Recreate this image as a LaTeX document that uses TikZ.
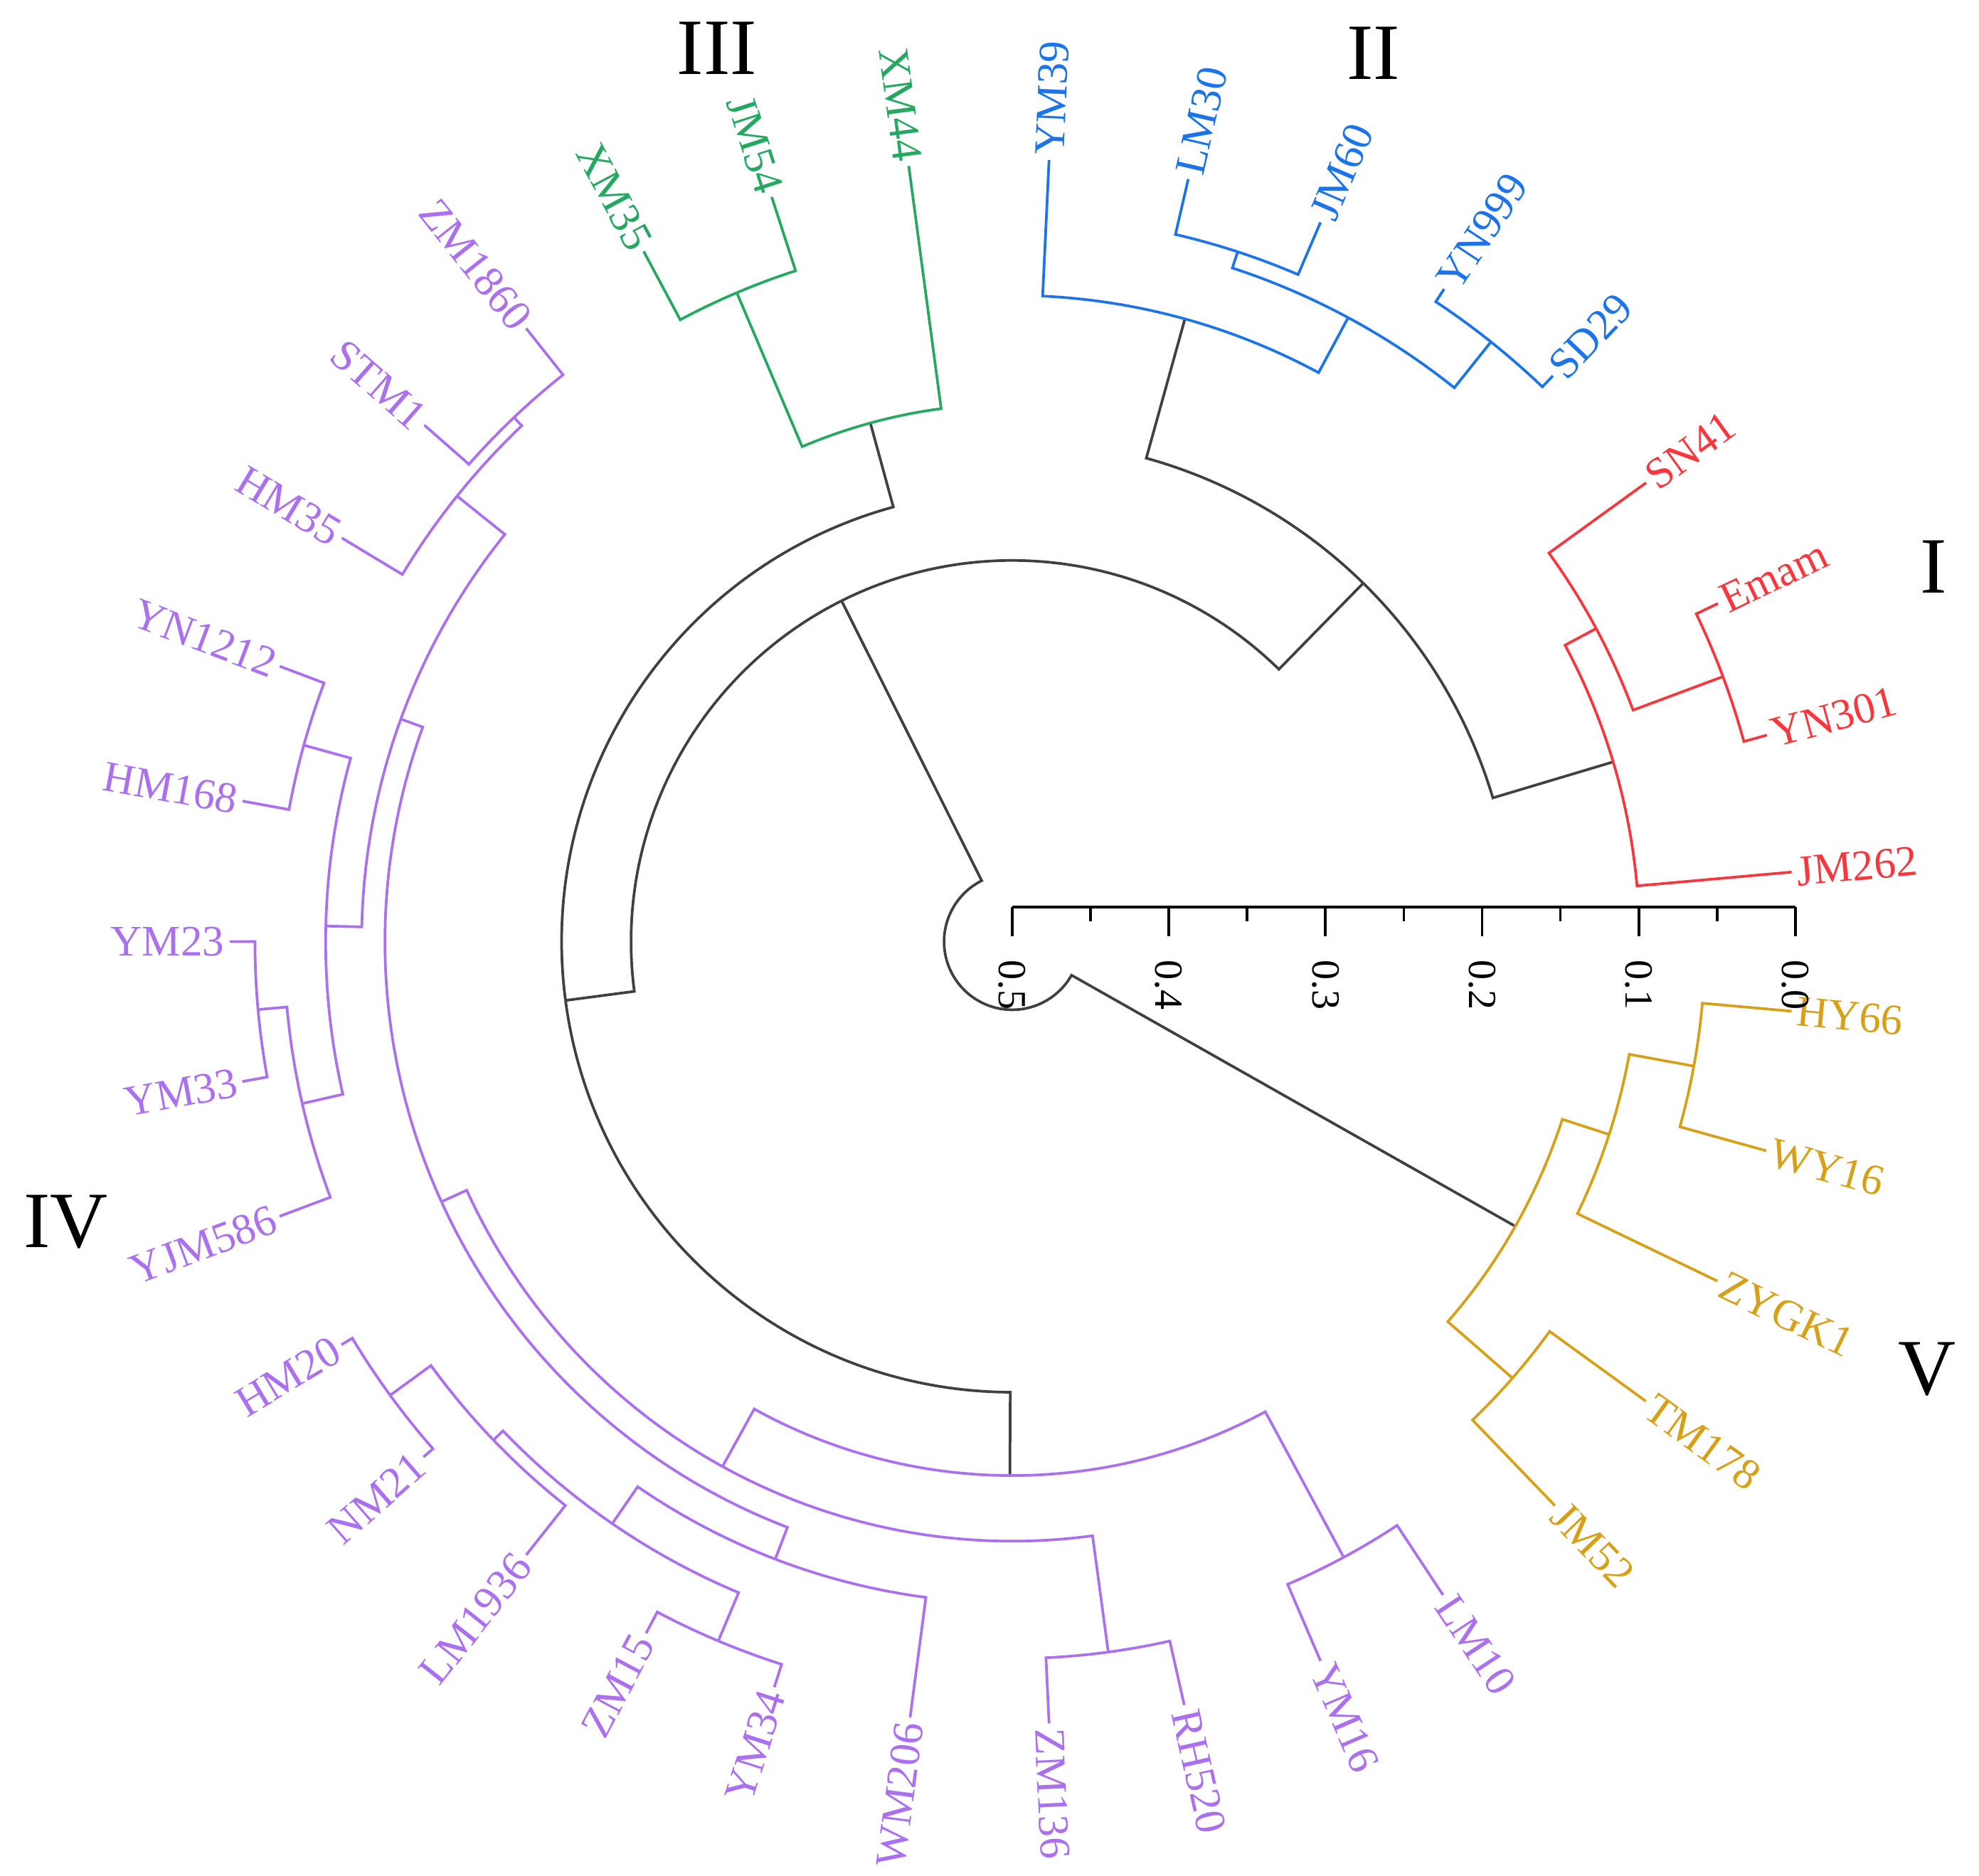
\documentclass[tikz,border=0pt]{standalone}
\usepackage{fontspec}
\setmainfont{Liberation Serif}

\definecolor{SpineColor}{RGB}{64,64,64}
\definecolor{CladeIColor}{RGB}{246,56,62}
\definecolor{CladeIIColor}{RGB}{28,116,232}
\definecolor{CladeIIIColor}{RGB}{38,168,98}
\definecolor{CladeIVColor}{RGB}{170,112,238}
\definecolor{CladeVColor}{RGB}{214,160,24}

\tikzstyle{branch-base}=[line width=0.6pt]
\tikzstyle{spine}=[branch-base, draw={SpineColor}]
\tikzstyle{clade1}=[branch-base, draw={CladeIColor}]
\tikzstyle{clade2}=[branch-base, draw={CladeIIColor}]
\tikzstyle{clade3}=[branch-base, draw={CladeIIIColor}]
\tikzstyle{clade4}=[branch-base, draw={CladeIVColor}]
\tikzstyle{clade5}=[branch-base, draw={CladeVColor}]
\tikzstyle{leaf-base}=[inner sep=1pt, font=\fontsize{9.8}{11}\selectfont]
\tikzstyle{leaf-out}=[leaf-base, anchor=west]
\tikzstyle{leaf-in}=[leaf-base, anchor=east]
\tikzstyle{clade-tag}=[font=\fontsize{18}{20}\selectfont]
\tikzstyle{axis}=[line width=0.6pt, draw=black]
\tikzstyle{axis-label}=[font=\fontsize{9}{10}\selectfont, rotate=-90, anchor=west, inner sep=0pt]

\begin{document}
\begin{tikzpicture}
\useasboundingbox (-8.02,-7.40) rectangle (7.66,7.46);

% inner nodes
\coordinate (root) at (223.5:0.54);
\coordinate (core_a) at (116.6:3.02);
\coordinate (core_b) at (45.6:3.975);
\coordinate (core_c) at (187.5:3.57);
\coordinate (c1_root) at (16.65:4.97);
\coordinate (c2_root) at (74.5:5.12);
\coordinate (c3_root) at (105.3:4.26);
\coordinate (c4_root) at (269.75:4.23);
\coordinate (c5_root) at (330.5:4.58);

\coordinate (c1_n1) at (28.2:5.25);
\coordinate (c1_n2) at (20.45:6.01);
\coordinate (c2_n1) at (61.7:5.615);
\coordinate (c2_n2) at (71.9:5.75);
\coordinate (c2_n3) at (51.4:6.08);
\coordinate (c3_n1) at (113.0:5.585);
\coordinate (c4_a) at (241.1:4.75);
\coordinate (c4_w) at (204.5:4.97);
\coordinate (c4_r) at (160.0:5.155);
\coordinate (c4_p) at (141.25:5.64);
\coordinate (c4_q) at (133.55:5.73);
\coordinate (c4_t) at (178.7:5.44);
\coordinate (c4_s) at (164.5:5.825);
\coordinate (c4_u) at (192.85:5.77);
\coordinate (c4_x) at (185.15:6.00);
\coordinate (c4_y) at (249.0:5.24);
\coordinate (c4_z) at (235.5:5.595);
\coordinate (c4_l) at (223.85:5.70);
\coordinate (c4_h) at (216.1:6.10);
\coordinate (c4_m) at (247.2:6.01);
\coordinate (c4_zr) at (277.7:5.68);
\coordinate (c4_b) at (298.3:5.54);
\coordinate (c5_n1) at (342.1:4.97);
\coordinate (c5_n2) at (349.65:5.49);
\coordinate (c5_n3) at (318.9:5.26);

% leaves
\node[leaf-out, text=CladeIColor, rotate=35.9] (SN41) at (35.9:6.20) {SN41};
\node[leaf-out, text=CladeIColor, rotate=25.6] (Emam) at (25.6:6.20) {Emam};
\node[leaf-out, text=CladeIColor, rotate=15.3] (YN301) at (15.3:6.20) {YN301};
\node[leaf-out, text=CladeIColor, rotate=5.1] (JM262) at (5.1:6.20) {JM262};

\node[leaf-out, text=CladeIIColor, rotate=87.3] (YM39) at (87.3:6.20) {YM39};
\node[leaf-out, text=CladeIIColor, rotate=77.0] (LM30) at (77.0:6.20) {LM30};
\node[leaf-out, text=CladeIIColor, rotate=66.8] (JM60) at (66.8:6.20) {JM60};
\node[leaf-out, text=CladeIIColor, rotate=56.5] (YN999) at (56.5:6.20) {YN999};
\node[leaf-out, text=CladeIIColor, rotate=46.3] (SD29) at (46.3:6.20) {SD29};

\node[leaf-in, text=CladeIIIColor, rotate=298.1] (XM35) at (118.1:6.20) {XM35};
\node[leaf-in, text=CladeIIIColor, rotate=287.9] (JM54) at (107.9:6.20) {JM54};
\node[leaf-in, text=CladeIIIColor, rotate=277.6] (XM44) at (97.6:6.20) {XM44};

\node[leaf-in, text=CladeIVColor, rotate=308.4] (ZM1860) at (128.4:6.20) {ZM1860};
\node[leaf-in, text=CladeIVColor, rotate=318.7] (STM1) at (138.7:6.20) {STM1};
\node[leaf-in, text=CladeIVColor, rotate=328.95] (HM35) at (148.95:6.20) {HM35};
\node[leaf-in, text=CladeIVColor, rotate=339.4] (YN1212) at (159.4:6.20) {YN1212};
\node[leaf-in, text=CladeIVColor, rotate=349.65] (HM168) at (169.65:6.20) {HM168};
\node[leaf-in, text=CladeIVColor, rotate=0.0] (YM23) at (180.0:6.20) {YM23};
\node[leaf-in, text=CladeIVColor, rotate=10.3] (YM33) at (190.3:6.20) {YM33};
\node[leaf-in, text=CladeIVColor, rotate=20.55] (YJM586) at (200.55:6.20) {YJM586};
\node[leaf-in, text=CladeIVColor, rotate=31.0] (HM20) at (211.0:6.20) {HM20};
\node[leaf-in, text=CladeIVColor, rotate=41.2] (NM21) at (221.2:6.20) {NM21};
\node[leaf-in, text=CladeIVColor, rotate=51.6] (LM1936) at (231.6:6.20) {LM1936};
\node[leaf-in, text=CladeIVColor, rotate=62.1] (ZM15) at (242.1:6.20) {ZM15};
\node[leaf-in, text=CladeIVColor, rotate=72.3] (YM34) at (252.3:6.20) {YM34};
\node[leaf-in, text=CladeIVColor, rotate=82.5] (WM206) at (262.5:6.20) {WM206};
\node[leaf-out, text=CladeIVColor, rotate=272.7] (ZM136) at (272.7:6.20) {ZM136};
\node[leaf-out, text=CladeIVColor, rotate=282.7] (RH520) at (282.7:6.20) {RH520};
\node[leaf-out, text=CladeIVColor, rotate=293.2] (YM16) at (293.2:6.20) {YM16};
\node[leaf-out, text=CladeIVColor, rotate=303.4] (LM10) at (303.4:6.20) {LM10};

\node[leaf-out, text=CladeVColor, rotate=354.9] (HY66) at (354.9:6.20) {HY66};
\node[leaf-out, text=CladeVColor, rotate=344.5] (WY16) at (344.5:6.20) {WY16};
\node[leaf-out, text=CladeVColor, rotate=334.3] (ZYGK1) at (334.3:6.20) {ZYGK1};
\node[leaf-out, text=CladeVColor, rotate=324.05] (TM178) at (324.05:6.20) {TM178};
\node[leaf-out, text=CladeVColor, rotate=313.9] (JM52) at (313.9:6.20) {JM52};

% backbone
\draw[spine] (root) arc[start angle=223.5, end angle=116.6, radius=0.54] -- (core_a);
\draw[spine] (root) arc[start angle=223.5, end angle=330.5, radius=0.54] -- (c5_root);
\draw[spine] (core_a) arc[start angle=116.6, end angle=45.6, radius=3.02] -- (core_b);
\draw[spine] (core_a) arc[start angle=116.6, end angle=187.5, radius=3.02] -- (core_c);
\draw[spine] (core_b) arc[start angle=45.6, end angle=16.65, radius=3.975] -- (c1_root);
\draw[spine] (core_b) arc[start angle=45.6, end angle=74.5, radius=3.975] -- (c2_root);
\draw[spine] (core_c) arc[start angle=187.5, end angle=105.3, radius=3.57] -- (c3_root);
\draw[spine] (core_c) arc[start angle=187.5, end angle=269.75, radius=3.57] -- (c4_root);

% clade I
\draw[clade1] (c1_root) arc[start angle=16.65, end angle=28.2, radius=4.97] -- (c1_n1);
\draw[clade1] (c1_root) arc[start angle=16.65, end angle=5.1, radius=4.97] -- (JM262);
\draw[clade1] (c1_n1) arc[start angle=28.2, end angle=35.9, radius=5.25] -- (SN41);
\draw[clade1] (c1_n1) arc[start angle=28.2, end angle=20.45, radius=5.25] -- (c1_n2);
\draw[clade1] (c1_n2) arc[start angle=20.45, end angle=25.6, radius=6.01] -- (Emam);
\draw[clade1] (c1_n2) arc[start angle=20.45, end angle=15.3, radius=6.01] -- (YN301);

% clade II
\draw[clade2] (c2_root) arc[start angle=74.5, end angle=87.3, radius=5.12] -- (YM39);
\draw[clade2] (c2_root) arc[start angle=74.5, end angle=61.7, radius=5.12] -- (c2_n1);
\draw[clade2] (c2_n1) arc[start angle=61.7, end angle=71.9, radius=5.615] -- (c2_n2);
\draw[clade2] (c2_n1) arc[start angle=61.7, end angle=51.4, radius=5.615] -- (c2_n3);
\draw[clade2] (c2_n2) arc[start angle=71.9, end angle=77.0, radius=5.75] -- (LM30);
\draw[clade2] (c2_n2) arc[start angle=71.9, end angle=66.8, radius=5.75] -- (JM60);
\draw[clade2] (c2_n3) arc[start angle=51.4, end angle=56.5, radius=6.08] -- (YN999);
\draw[clade2] (c2_n3) arc[start angle=51.4, end angle=46.3, radius=6.08] -- (SD29);

% clade III
\draw[clade3] (c3_root) arc[start angle=105.3, end angle=113.0, radius=4.26] -- (c3_n1);
\draw[clade3] (c3_root) arc[start angle=105.3, end angle=97.6, radius=4.26] -- (XM44);
\draw[clade3] (c3_n1) arc[start angle=113.0, end angle=118.1, radius=5.585] -- (XM35);
\draw[clade3] (c3_n1) arc[start angle=113.0, end angle=107.9, radius=5.585] -- (JM54);

% clade IV
\draw[clade4] (c4_root) arc[start angle=269.75, end angle=241.1, radius=4.23] -- (c4_a);
\draw[clade4] (c4_root) arc[start angle=269.75, end angle=298.3, radius=4.23] -- (c4_b);
\draw[clade4] (c4_a) arc[start angle=241.1, end angle=204.5, radius=4.75] -- (c4_w);
\draw[clade4] (c4_a) arc[start angle=241.1, end angle=277.7, radius=4.75] -- (c4_zr);
\draw[clade4] (c4_w) arc[start angle=204.5, end angle=160.0, radius=4.97] -- (c4_r);
\draw[clade4] (c4_w) arc[start angle=204.5, end angle=249.0, radius=4.97] -- (c4_y);
\draw[clade4] (c4_r) arc[start angle=160.0, end angle=141.25, radius=5.155] -- (c4_p);
\draw[clade4] (c4_r) arc[start angle=160.0, end angle=178.7, radius=5.155] -- (c4_t);
\draw[clade4] (c4_p) arc[start angle=141.25, end angle=133.55, radius=5.64] -- (c4_q);
\draw[clade4] (c4_p) arc[start angle=141.25, end angle=148.95, radius=5.64] -- (HM35);
\draw[clade4] (c4_q) arc[start angle=133.55, end angle=128.4, radius=5.73] -- (ZM1860);
\draw[clade4] (c4_q) arc[start angle=133.55, end angle=138.7, radius=5.73] -- (STM1);
\draw[clade4] (c4_t) arc[start angle=178.7, end angle=164.5, radius=5.44] -- (c4_s);
\draw[clade4] (c4_t) arc[start angle=178.7, end angle=192.85, radius=5.44] -- (c4_u);
\draw[clade4] (c4_s) arc[start angle=164.5, end angle=159.4, radius=5.825] -- (YN1212);
\draw[clade4] (c4_s) arc[start angle=164.5, end angle=169.65, radius=5.825] -- (HM168);
\draw[clade4] (c4_u) arc[start angle=192.85, end angle=185.15, radius=5.77] -- (c4_x);
\draw[clade4] (c4_u) arc[start angle=192.85, end angle=200.55, radius=5.77] -- (YJM586);
\draw[clade4] (c4_x) arc[start angle=185.15, end angle=180.0, radius=6.00] -- (YM23);
\draw[clade4] (c4_x) arc[start angle=185.15, end angle=190.3, radius=6.00] -- (YM33);
\draw[clade4] (c4_y) arc[start angle=249.0, end angle=235.5, radius=5.24] -- (c4_z);
\draw[clade4] (c4_y) arc[start angle=249.0, end angle=262.5, radius=5.24] -- (WM206);
\draw[clade4] (c4_z) arc[start angle=235.5, end angle=223.85, radius=5.595] -- (c4_l);
\draw[clade4] (c4_z) arc[start angle=235.5, end angle=247.2, radius=5.595] -- (c4_m);
\draw[clade4] (c4_l) arc[start angle=223.85, end angle=216.1, radius=5.70] -- (c4_h);
\draw[clade4] (c4_l) arc[start angle=223.85, end angle=231.6, radius=5.70] -- (LM1936);
\draw[clade4] (c4_h) arc[start angle=216.1, end angle=211.0, radius=6.10] -- (HM20);
\draw[clade4] (c4_h) arc[start angle=216.1, end angle=221.2, radius=6.10] -- (NM21);
\draw[clade4] (c4_m) arc[start angle=247.2, end angle=242.1, radius=6.01] -- (ZM15);
\draw[clade4] (c4_m) arc[start angle=247.2, end angle=252.3, radius=6.01] -- (YM34);
\draw[clade4] (c4_zr) arc[start angle=277.7, end angle=272.7, radius=5.68] -- (ZM136);
\draw[clade4] (c4_zr) arc[start angle=277.7, end angle=282.7, radius=5.68] -- (RH520);
\draw[clade4] (c4_b) arc[start angle=298.3, end angle=293.2, radius=5.54] -- (YM16);
\draw[clade4] (c4_b) arc[start angle=298.3, end angle=303.4, radius=5.54] -- (LM10);

% clade V
\draw[clade5] (c5_root) arc[start angle=330.5, end angle=342.1, radius=4.58] -- (c5_n1);
\draw[clade5] (c5_root) arc[start angle=330.5, end angle=318.9, radius=4.58] -- (c5_n3);
\draw[clade5] (c5_n1) arc[start angle=342.1, end angle=349.65, radius=4.97] -- (c5_n2);
\draw[clade5] (c5_n1) arc[start angle=342.1, end angle=334.3, radius=4.97] -- (ZYGK1);
\draw[clade5] (c5_n2) arc[start angle=349.65, end angle=354.9, radius=5.49] -- (HY66);
\draw[clade5] (c5_n2) arc[start angle=349.65, end angle=344.5, radius=5.49] -- (WY16);
\draw[clade5] (c5_n3) arc[start angle=318.9, end angle=324.05, radius=5.26] -- (TM178);
\draw[clade5] (c5_n3) arc[start angle=318.9, end angle=313.9, radius=5.26] -- (JM52);

% clade tags
\node[clade-tag] (tag1) at (7.30,2.97) {I};
\node[clade-tag] (tag2) at (2.86,7.04) {II};
\node[clade-tag] (tag3) at (-2.34,7.08) {III};
\node[clade-tag] (tag4) at (-7.50,-2.22) {IV};
\node[clade-tag] (tag5) at (7.25,-3.39) {V};

% scale bar
\draw[axis] (0,0.274) -- (6.206,0.274);
\draw[axis] (0,0.274) -- (0,0.044);
\draw[axis] (0.6205,0.274) -- (0.6205,0.161);
\draw[axis] (1.241,0.274) -- (1.241,0.044);
\draw[axis] (1.8615,0.274) -- (1.8615,0.161);
\draw[axis] (2.482,0.274) -- (2.482,0.044);
\draw[axis] (3.1025,0.274) -- (3.1025,0.161);
\draw[axis] (3.723,0.274) -- (3.723,0.044);
\draw[axis] (4.3435,0.274) -- (4.3435,0.161);
\draw[axis] (4.964,0.274) -- (4.964,0.044);
\draw[axis] (5.5845,0.274) -- (5.5845,0.161);
\draw[axis] (6.206,0.274) -- (6.206,0.044);
\node[axis-label] (tick05) at (0,-0.14) {0.5};
\node[axis-label] (tick04) at (1.241,-0.14) {0.4};
\node[axis-label] (tick03) at (2.482,-0.14) {0.3};
\node[axis-label] (tick02) at (3.723,-0.14) {0.2};
\node[axis-label] (tick01) at (4.964,-0.14) {0.1};
\node[axis-label] (tick00) at (6.206,-0.14) {0.0};

\end{tikzpicture}
\end{document}
